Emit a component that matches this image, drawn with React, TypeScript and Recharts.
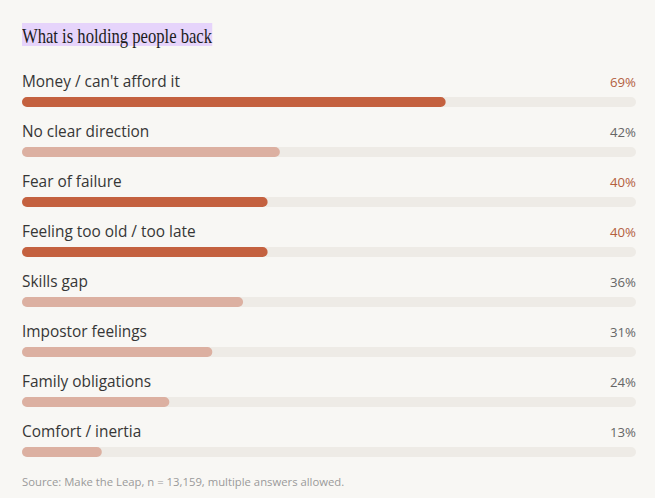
import React from "react";
import { BarChart, Bar, XAxis, YAxis, Cell, LabelList } from "recharts";

const categories = [
  "Money / can't afford it",
  "No clear direction",
  "Fear of failure",
  "Feeling too old / too late",
  "Skills gap",
  "Impostor feelings",
  "Family obligations",
  "Comfort / inertia",
];
const values = [69, 42, 40, 40, 36, 31, 24, 13];
const highlighted = [true, false, true, true, false, false, false, false];

const TITLE = "What is holding people back";
const SOURCE = "Source: Make the Leap, n = 13,159, multiple answers allowed.";

const data = categories.map((name, i) => ({ name, value: values[i], hi: highlighted[i] }));

const W = 655;
const H = 498;
const MARGIN = { top: 77, right: 19, bottom: 21, left: 22 };
const BG = "#f8f7f4";
const DARK = "#c4613f";
const LIGHT = "#dcb0a1";
const TRACK = "#eeebe6";
const FONT = "'Open Sans', sans-serif";

const NameLabel = (props: any) => {
  const { x, y, value } = props;
  return (
    <text x={x} y={y - 10} fill="#363636" fontSize={15.4} fontFamily={FONT}>
      {value}
    </text>
  );
};

const ValueLabel = (props: any) => {
  const { y, value, index } = props;
  const hi = highlighted[index];
  return (
    <text
      x={W - MARGIN.right}
      y={y - 10}
      textAnchor="end"
      fill={hi ? "#b3603f" : "#666666"}
      fontSize={13.2}
      fontWeight={400}
      fontFamily={FONT}
    >
      {value}%
    </text>
  );
};

export default function App() {
  return (
    <div
      style={{
        position: "absolute",
        left: 0,
        top: 0,
        width: W,
        height: H,
        background: BG,
        overflow: "hidden",
      }}
    >
      <div
        style={{
          position: "absolute",
          left: 22,
          top: 23,
          transform: "scaleX(0.755)",
          transformOrigin: "left top",
        }}
      >
        <span
          style={{
            display: "inline-block",
            fontFamily: "'Liberation Serif', serif",
            fontSize: 22,
            lineHeight: "23px",
            height: 23,
            color: "#1c1c1c",
            background: "#e6d4fb",
            whiteSpace: "nowrap",
            paddingTop: 1,
            boxSizing: "border-box",
          }}
        >
          {TITLE}
        </span>
      </div>
      <div style={{ position: "absolute", left: 0, top: 0 }}>
        <BarChart
          width={W}
          height={H}
          data={data}
          layout="vertical"
          margin={MARGIN}
          barSize={10}
        >
          <XAxis type="number" domain={[0, 100]} hide />
          <YAxis type="category" dataKey="name" hide />
          <Bar
            dataKey="value"
            isAnimationActive={false}
            radius={5}
            background={{ fill: TRACK, radius: 5 } as any}
          >
            {data.map((d, i) => (
              <Cell key={i} fill={d.hi ? DARK : LIGHT} />
            ))}
            <LabelList dataKey="name" content={NameLabel} />
            <LabelList dataKey="value" content={ValueLabel} />
          </Bar>
        </BarChart>
      </div>
      <div
        style={{
          position: "absolute",
          left: 22,
          top: 474,
          fontFamily: FONT,
          fontSize: 11.3,
          color: "#9a9a9a",
          whiteSpace: "nowrap",
        }}
      >
        {SOURCE}
      </div>
    </div>
  );
}
